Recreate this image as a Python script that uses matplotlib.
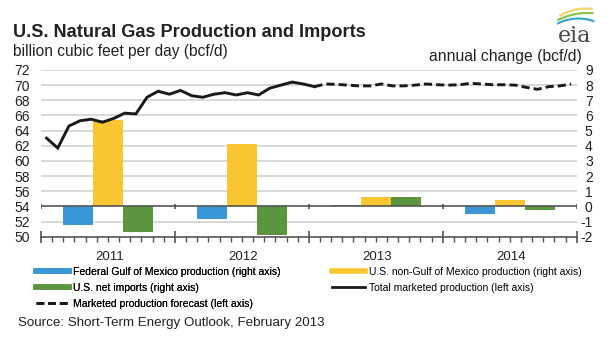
import numpy as np
import matplotlib
matplotlib.use("Agg")
import matplotlib.pyplot as plt
from matplotlib.lines import Line2D

plt.rcParams['font.family'] = ['Liberation Sans', 'DejaVu Sans']

# data
years = ['2011', '2012', '2013', '2014']
gulf = [-1.2, -0.83, 0.1, -0.52]          # Federal Gulf of Mexico production (right axis)
non_gulf = [5.7, 4.1, 0.65, 0.4]         # U.S. non-Gulf of Mexico production (right axis)
net_imports = [-1.7, -1.9, 0.62, -0.25]  # U.S. net imports (right axis)

# monthly total marketed production, Jan 2011 - Jan 2013 (left axis)
total_hist = [63.0, 61.7, 64.6, 65.3, 65.5, 65.1, 65.6, 66.3, 66.2, 68.4, 69.2, 68.8,
              69.3, 68.6, 68.4, 68.8, 69.0, 68.7, 69.0, 68.7, 69.6, 70.0, 70.4, 70.15,
              69.8]
# forecast Jan 2013 - Dec 2014 (left axis)
forecast = [69.8, 70.15, 70.1, 70.0, 69.9, 69.9, 70.15, 69.9, 69.9, 70.0, 70.15, 70.05,
            70.0, 70.05, 70.24, 70.15, 70.05, 70.05, 70.0, 69.7, 69.45, 69.8, 69.9, 70.15]

left_ticks = [50, 52, 54, 56, 58, 60, 62, 64, 66, 68, 70, 72]
right_ticks = [-2, -1, 0, 1, 2, 3, 4, 5, 6, 7, 8, 9]
right_labels = ['-2', '-1', '0', '1', '2', '3', '4', '5', '6', '7', '8', '9']

c_blue = '#3a96d5'
c_yellow = '#f9c632'
c_green = '#5b963f'
c_line = '#1a1a1a'
c_grid = '#d6d6d6'
c_axis = '#555555'
c_text = '#222222'
dash = (0, (2.8, 1.4))

fig = plt.figure(figsize=(6.15, 3.43), dpi=100)
ax = fig.add_axes([0.0667, 0.31, 0.871, 0.486])
ax2 = ax.twinx()

# left axis: production
ax.set_ylim(50, 72)
ax.set_xlim(0, 48)
ax.set_yticks(left_ticks)
for v in left_ticks[1:]:
    if v != 54:
        ax.axhline(v, color=c_grid, lw=1.3, zorder=0)

# right axis: annual change bars
ax2.set_ylim(-2, 9)
ax2.set_yticks(right_ticks)
ax2.set_yticklabels(right_labels)
w = 2.69
centers = np.arange(len(years)) * 12 + 6
ax2.bar(centers - w, gulf, width=w, color=c_blue, zorder=2)
ax2.bar(centers, non_gulf, width=w, color=c_yellow, zorder=2)
ax2.bar(centers + w, net_imports, width=w, color=c_green, zorder=2)
ax2.axhline(0, color=c_axis, lw=1.2, zorder=3)
ax2.vlines(np.arange(0, 49, 12), -0.17, 0.17, color=c_axis, lw=1.2, zorder=3)

# production lines drawn on top, converted to left-axis scale
x_hist = np.arange(len(total_hist)) + 0.5
x_fc = np.arange(24, 24 + len(forecast)) + 0.5
to_left = ax.transData + ax2.transData.inverted()
hist_pts = to_left.transform(np.column_stack([x_hist, total_hist]))
fc_pts = to_left.transform(np.column_stack([x_fc, forecast]))
ax2.plot(hist_pts[:, 0], hist_pts[:, 1], color=c_line, lw=2.1, zorder=4,
         solid_joinstyle='miter')
ax2.plot(fc_pts[:, 0], fc_pts[:, 1], color=c_line, lw=2.1, ls=dash, zorder=4)

for a in (ax, ax2):
    for s in ('top', 'left', 'right'):
        a.spines[s].set_visible(False)
    a.tick_params(axis='y', length=0, labelsize=10, colors=c_text)
ax.tick_params(axis='y', pad=8)
ax2.tick_params(axis='y', pad=11.5)
for lab in ax2.get_yticklabels():
    lab.set_horizontalalignment('right')
ax2.spines['bottom'].set_visible(False)
ax.spines['bottom'].set_color(c_axis)
ax.spines['bottom'].set_linewidth(1.2)
ax.set_xticks(np.arange(0, 49, 12))
ax.set_xticks(np.arange(0, 49, 1), minor=True)
ax.tick_params(axis='x', which='major', direction='inout', length=8, width=1.2,
               color=c_axis, labelbottom=False)
ax.tick_params(axis='x', which='minor', direction='out', length=3.5, width=1,
               color=c_axis)
for c, yr in zip(centers, years):
    ax.text(c + 0.15, -0.085, yr, transform=ax.get_xaxis_transform(), ha='center',
            va='top', fontsize=9.5, color=c_text)

# titles
fig.text(0.021, 0.891, 'U.S. Natural Gas Production and Imports', fontsize=13.1,
         fontweight='bold', color=c_text)
fig.text(0.021, 0.837, 'billion cubic feet per day (bcf/d)', fontsize=11.2, color=c_text)
fig.text(0.946, 0.823, 'annual change (bcf/d)', fontsize=11.3, color=c_text, ha='right')

# eia logo
fig.text(0.934, 0.878, 'eia', fontsize=16, family='DejaVu Serif', color='#4a4a4a',
         ha='center')
lax = fig.add_axes([0.905, 0.925, 0.063, 0.06])
lax.axis('off')
t = np.linspace(0, 1, 30)
lax.plot(t * 0.85 + 0.1, 0.35 + 0.9 * t - 0.55 * t ** 2, color='#f1d56c', lw=1.6)
lax.plot(t * 0.92 + 0.05, 0.12 + 0.85 * t - 0.5 * t ** 2, color='#8cc24b', lw=1.6)
lax.plot(t, -0.1 + 0.95 * t - 0.8 * t ** 2, color='#3fa5d6', lw=1.6)
lax.set_xlim(0, 1.05)
lax.set_ylim(-0.2, 0.9)

# legend, two columns placed separately
col1 = [Line2D([], [], color=c_blue, lw=4),
        Line2D([], [], color=c_green, lw=4),
        Line2D([], [], color=c_line, lw=2.0, ls=dash)]
lab1 = ['Federal Gulf of Mexico production (right axis)',
        'U.S. net imports (right axis)',
        'Marketed production forecast (left axis)']
col2 = [Line2D([], [], color=c_yellow, lw=4),
        Line2D([], [], color=c_line, lw=2.0)]
lab2 = ['U.S. non-Gulf of Mexico production (right axis)',
        'Total marketed production (left axis)']
leg_kw = dict(loc='upper left', frameon=False, fontsize=7.5, handlelength=3.2,
              handletextpad=0.35, labelspacing=0.6, borderaxespad=0, borderpad=0)
fig.add_artist(fig.legend(col1, lab1, bbox_to_anchor=(0.0585, 0.223), **leg_kw))
fig.legend(col2, lab2, bbox_to_anchor=(0.54, 0.223), **leg_kw)

fig.text(0.029, 0.0496, 'Source: Short-Term Energy Outlook, February 2013', fontsize=9.6,
         color=c_text)

fig.savefig('out.png', dpi=100)
